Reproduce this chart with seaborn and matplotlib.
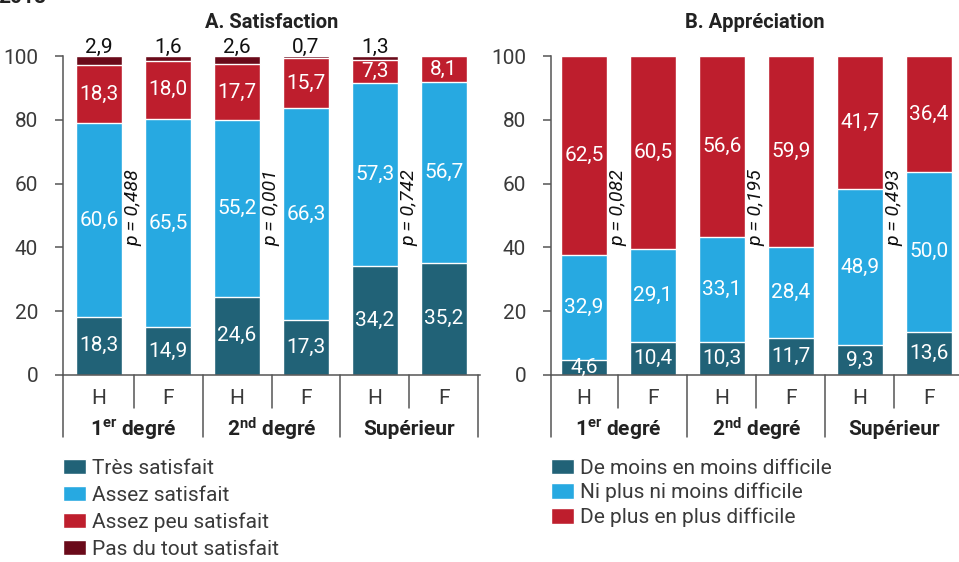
import numpy as np
import pandas as pd
import seaborn as sns
import matplotlib.pyplot as plt

# bars: H / F for each level of teaching
bar_ids = ['1H', '1F', '2H', '2F', '3H', '3F']
sexes = ['H', 'F', 'H', 'F', 'H', 'F']
groups = [r'1$^{\mathbf{er}}$ degré', r'2$^{\mathbf{nd}}$ degré', 'Supérieur']

# A. Satisfaction
sat_labels = ['Très satisfait', 'Assez satisfait', 'Assez peu satisfait', 'Pas du tout satisfait']
tres_satisfait = [18.3, 14.9, 24.6, 17.3, 34.2, 35.2]
assez_satisfait = [60.6, 65.5, 55.2, 66.3, 57.3, 56.7]
assez_peu_satisfait = [18.3, 18.0, 17.7, 15.7, 7.3, 8.1]
pas_du_tout = [2.9, 1.6, 2.6, 0.7, 1.3, 0.0]
p_sat = ['0,488', '0,001', '0,742']

# B. Appréciation
app_labels = ['De moins en moins difficile', 'Ni plus ni moins difficile', 'De plus en plus difficile']
moins_difficile = [4.6, 10.4, 10.3, 11.7, 9.3, 13.6]
ni_plus_ni_moins = [32.9, 29.1, 33.1, 28.4, 48.9, 50.0]
plus_difficile = [62.5, 60.5, 56.6, 59.9, 41.7, 36.4]
p_app = ['0,082', '0,195', '0,493']

TEAL = '#216277'
BLUE = '#27a9e1'
RED = '#be1e2d'
DARKRED = '#6a0a1a'
GREY = '#3a3a3a'
FS = 15

sns.set_style('white')
plt.rcParams['font.family'] = ['Roboto', 'DejaVu Sans']
plt.rcParams['mathtext.fontset'] = 'custom'
plt.rcParams['mathtext.rm'] = 'Roboto'
plt.rcParams['mathtext.bf'] = 'Roboto:bold'
plt.rcParams['mathtext.it'] = 'Roboto:italic'

fig = plt.figure(figsize=(9.59, 5.62), dpi=100)
H_AX = 319 / 562
ax_a = fig.add_axes([63 / 959, 187 / 562, 417 / 959, H_AX])
ax_b = fig.add_axes([551 / 959, 187 / 562, 408 / 959, H_AX])


def stacked(ax, series, labels, colors, top_outside, pvals, title, xlim, leg_y, leg_spacing):
    df = pd.DataFrame(dict(zip(labels, series)), index=bar_ids)
    cum = df.cumsum(axis=1)
    # draw cumulative totals, largest first, so smaller stacks sit on top
    for lab, col in reversed(list(zip(labels, colors))):
        sns.barplot(x=bar_ids, y=cum[lab].values, color=col, saturation=1, width=0.667,
                    order=bar_ids, errorbar=None, label=lab, ax=ax)
    # value labels
    for k, lab in enumerate(labels):
        for j, b in enumerate(bar_ids):
            v = df.loc[b, lab]
            if v == 0:
                continue
            if top_outside and k == len(labels) - 1:
                ax.text(j, 100.9, f'{v:.1f}'.replace('.', ','), ha='center', va='baseline',
                        fontsize=FS, color='#111111', clip_on=False)
            else:
                mid = cum.loc[b, lab] - v / 2
                ax.text(j, mid, f'{v:.1f}'.replace('.', ','), ha='center', va='center',
                        fontsize=FS, color='white')
    for g, p in enumerate(pvals):
        ax.text(2 * g + 0.5, 52.6, f'p = {p}', rotation=90, ha='center', va='center',
                fontsize=14, style='italic', color='#111111')

    ax.set_ylim(0, 100)
    ax.set_xlim(*xlim)
    ax.set_yticks([0, 20, 40, 60, 80, 100])
    ax.set_xticks([])
    ax.set_xlabel('')
    ax.set_ylabel('')
    ax.tick_params(axis='y', direction='out', length=6, width=1.1, color='#555555',
                   labelsize=FS, labelcolor=GREY, pad=12, left=True)
    for s in ['top', 'right']:
        ax.spines[s].set_visible(False)
    for s in ['left', 'bottom']:
        ax.spines[s].set_color('#555555')
        ax.spines[s].set_linewidth(1.1)

    # category axis below the bars
    tr = ax.get_xaxis_transform()
    for xb in [0.5, 2.5, 4.5]:
        ax.plot([xb, xb], [0, -0.103], transform=tr, color='#555555', lw=1.1, clip_on=False)
    for xb in [xlim[0], 1.5, 3.5, 5.5]:
        ax.plot([xb, xb], [0, -0.194], transform=tr, color='#555555', lw=1.1, clip_on=False)
    for j, s in enumerate(sexes):
        ax.text(j, -0.075, s, transform=tr, ha='center', va='center', fontsize=FS, color=GREY)
    for g, name in enumerate(groups):
        ax.text(2 * g + 0.5, -0.172, name, transform=tr, ha='center', va='center',
                fontsize=FS, fontweight='bold', color='#222222')

    ax.text(0.5, 1.088, title, transform=ax.transAxes, ha='center', va='baseline',
            fontsize=14.5, fontweight='bold', color='#222222')

    handles, labs = ax.get_legend_handles_labels()
    ax.legend(handles[::-1], labs[::-1], loc='upper left', bbox_to_anchor=(0.0, leg_y),
              frameon=False, borderpad=0, borderaxespad=0, handlelength=1.1,
              handleheight=0.77, handletextpad=0.3, labelspacing=leg_spacing,
              fontsize=FS, labelcolor=GREY)


stacked(ax_a, [tres_satisfait, assez_satisfait, assez_peu_satisfait, pas_du_tout],
        sat_labels, [TEAL, BLUE, RED, DARKRED], True, p_sat, 'A. Satisfaction',
        (-0.522, 5.522), -0.262, 0.38)
stacked(ax_b, [moins_difficile, ni_plus_ni_moins, plus_difficile],
        app_labels, [TEAL, BLUE, RED], False, p_app, 'B. Appréciation',
        (-0.478, 5.435), -0.262, 0.25)

# title of the page, cut at the top edge as in the source
fig.text(-0.002, 1 - 3 / 562, '2018', ha='left', va='baseline', fontsize=15,
         fontweight='bold', color='#222222')

fig.savefig('out.png', dpi=100)
